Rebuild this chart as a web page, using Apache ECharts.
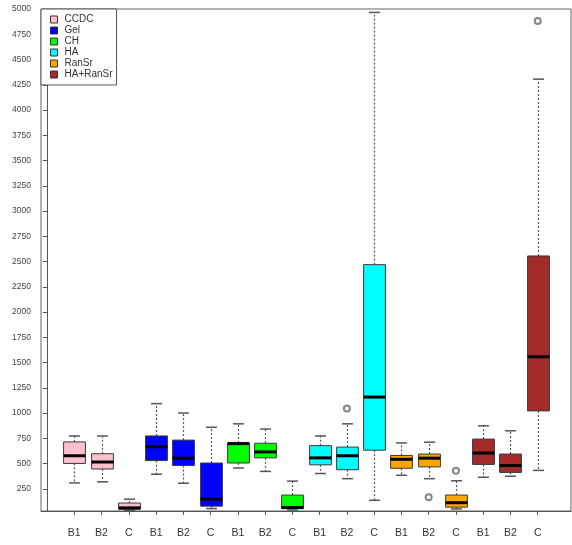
<!DOCTYPE html>
<html>
<head>
<meta charset="utf-8">
<script src="https://cdn.jsdelivr.net/npm/echarts@6/dist/echarts.min.js"></script>
<style>
  html, body { margin: 0; padding: 0; background: #fff; }
  #chart { width: 572px; height: 545px; }
</style>
</head>
<body>
<div id="chart"></div>
<script>
// groups and tick labels
var groups = ['CCDC', 'Gel', 'CH', 'HA', 'RanSr', 'HA+RanSr'];
var groupColors = ['#FFC0CB', '#0000FF', '#00FF00', '#00FFFF', '#FFA500', '#A52A2A'];
var xLabels = ['B1', 'B2', 'C', 'B1', 'B2', 'C', 'B1', 'B2', 'C',
  'B1', 'B2', 'C', 'B1', 'B2', 'C', 'B1', 'B2', 'C'];
var yTicks = [250, 500, 750, 1000, 1250, 1500, 1750, 2000, 2250, 2500,
  2750, 3000, 3250, 3500, 3750, 4000, 4250, 4500, 4750, 5000];

// box stats per group: [min, Q1, median, Q3, max] for B1, B2, C
var ccdc = [[308, 501, 577, 714, 773], [319, 446, 515, 597, 773], [37, 47, 61, 109, 147]];
var gel = [[394, 529, 666, 773, 1093], [305, 480, 553, 732, 1000], [54, 78, 147, 505, 859]];
var ch = [[456, 505, 697, 704, 893], [422, 556, 615, 701, 842], [40, 54, 64, 188, 326]];
var ha = [[401, 487, 556, 677, 773], [350, 439, 577, 663, 893], [136, 632, 1158, 2469, 4966]];
var ranSr = [[384, 453, 542, 580, 704], [350, 467, 553, 594, 711], [50, 68, 112, 188, 329]];
var haRanSr = [[364, 491, 604, 742, 873], [374, 412, 480, 594, 824], [432, 1021, 1557, 2555, 4306]];

// outliers: [position, value]
var outliers = [[11, 1045], [14, 167], [15, 429], [18, 4880]];

var stats = [ccdc, gel, ch, ha, ranSr, haRanSr];

var chart = echarts.init(document.getElementById('chart'));

function renderBox(params, api) {
  var pos = api.value(0);
  var unit = api.size([1, 0])[0];
  var half = unit * 0.4;
  var cap = half * 0.5;
  var pMin = api.coord([pos, api.value(1)]);
  var pQ1 = api.coord([pos, api.value(2)]);
  var pMed = api.coord([pos, api.value(3)]);
  var pQ3 = api.coord([pos, api.value(4)]);
  var pMax = api.coord([pos, api.value(5)]);
  var x = Math.round(pMed[0]) + 0.5;
  var whisker = { stroke: '#555', lineWidth: 1.2, lineDash: [2, 2] };
  var capStyle = { stroke: '#555', lineWidth: 1.5 };
  return {
    type: 'group',
    children: [
      { type: 'line', shape: { x1: x, y1: pQ3[1], x2: x, y2: pMax[1] }, style: whisker },
      { type: 'line', shape: { x1: x, y1: pQ1[1], x2: x, y2: pMin[1] }, style: whisker },
      { type: 'line', shape: { x1: x - cap, y1: pMax[1], x2: x + cap, y2: pMax[1] }, style: capStyle },
      { type: 'line', shape: { x1: x - cap, y1: pMin[1], x2: x + cap, y2: pMin[1] }, style: capStyle },
      {
        type: 'rect',
        shape: { x: x - half, y: pQ3[1], width: half * 2, height: pQ1[1] - pQ3[1] },
        style: { fill: api.visual('color'), stroke: '#3a3a3a', lineWidth: 1 }
      },
      {
        type: 'line',
        shape: { x1: x - half, y1: pMed[1], x2: x + half, y2: pMed[1] },
        style: { stroke: '#000', lineWidth: 3 }
      }
    ]
  };
}

var series = groups.map(function (g, gi) {
  return {
    name: g,
    type: 'custom',
    renderItem: renderBox,
    itemStyle: { color: groupColors[gi] },
    encode: { x: 0, y: [1, 2, 3, 4, 5] },
    data: stats[gi].map(function (s, k) {
      return [gi * 3 + k + 1].concat(s);
    }),
    z: 2
  };
});

series.push({
  name: 'outlier',
  type: 'scatter',
  symbol: 'emptyCircle',
  symbolSize: 6,
  itemStyle: { color: '#666', borderWidth: 1 },
  data: outliers,
  z: 3
});

var option = {
  backgroundColor: '#fff',
  animation: false,
  textStyle: { fontFamily: 'Liberation Sans, Arial, sans-serif' },
  grid: {
    left: 41,
    right: 1,
    top: 9,
    bottom: 34,
    show: true,
    borderColor: '#666',
    borderWidth: 1
  },
  legend: {
    orient: 'vertical',
    left: 41,
    top: 9,
    data: groups,
    icon: 'rect',
    itemWidth: 7,
    itemHeight: 7,
    itemGap: 0,
    padding: [5, 4, 5, 9],
    backgroundColor: '#fff',
    borderColor: '#555',
    borderWidth: 1,
    borderRadius: 0,
    itemStyle: { borderColor: '#333', borderWidth: 1 },
    textStyle: { fontSize: 10, color: '#333', lineHeight: 11, padding: [0, 0, 0, 2] }
  },
  xAxis: {
    type: 'value',
    min: -0.22,
    max: 19.22,
    splitLine: { show: false },
    axisLine: { show: true, onZero: false, lineStyle: { color: '#555' } },
    axisTick: {
      show: true,
      inside: false,
      length: 4,
      customValues: xLabels.map(function (l, i) { return i + 1; }),
      lineStyle: { color: '#555' }
    },
    axisLabel: {
      customValues: xLabels.map(function (l, i) { return i + 1; }),
      formatter: function (v) { return xLabels[Math.round(v) - 1]; },
      margin: 17,
      fontSize: 10.5,
      color: '#333'
    }
  },
  yAxis: {
    type: 'value',
    min: 30,
    max: 5000,
    splitLine: { show: false },
    axisLine: { show: true, lineStyle: { color: '#555' } },
    axisTick: {
      show: true,
      inside: false,
      length: 4,
      customValues: yTicks,
      lineStyle: { color: '#555' }
    },
    axisLabel: {
      customValues: yTicks,
      formatter: function (v) { return String(v); },
      margin: 10,
      fontSize: 8.5,
      color: '#444'
    }
  },
  series: series
};

chart.setOption(option);
</script>
</body>
</html>
